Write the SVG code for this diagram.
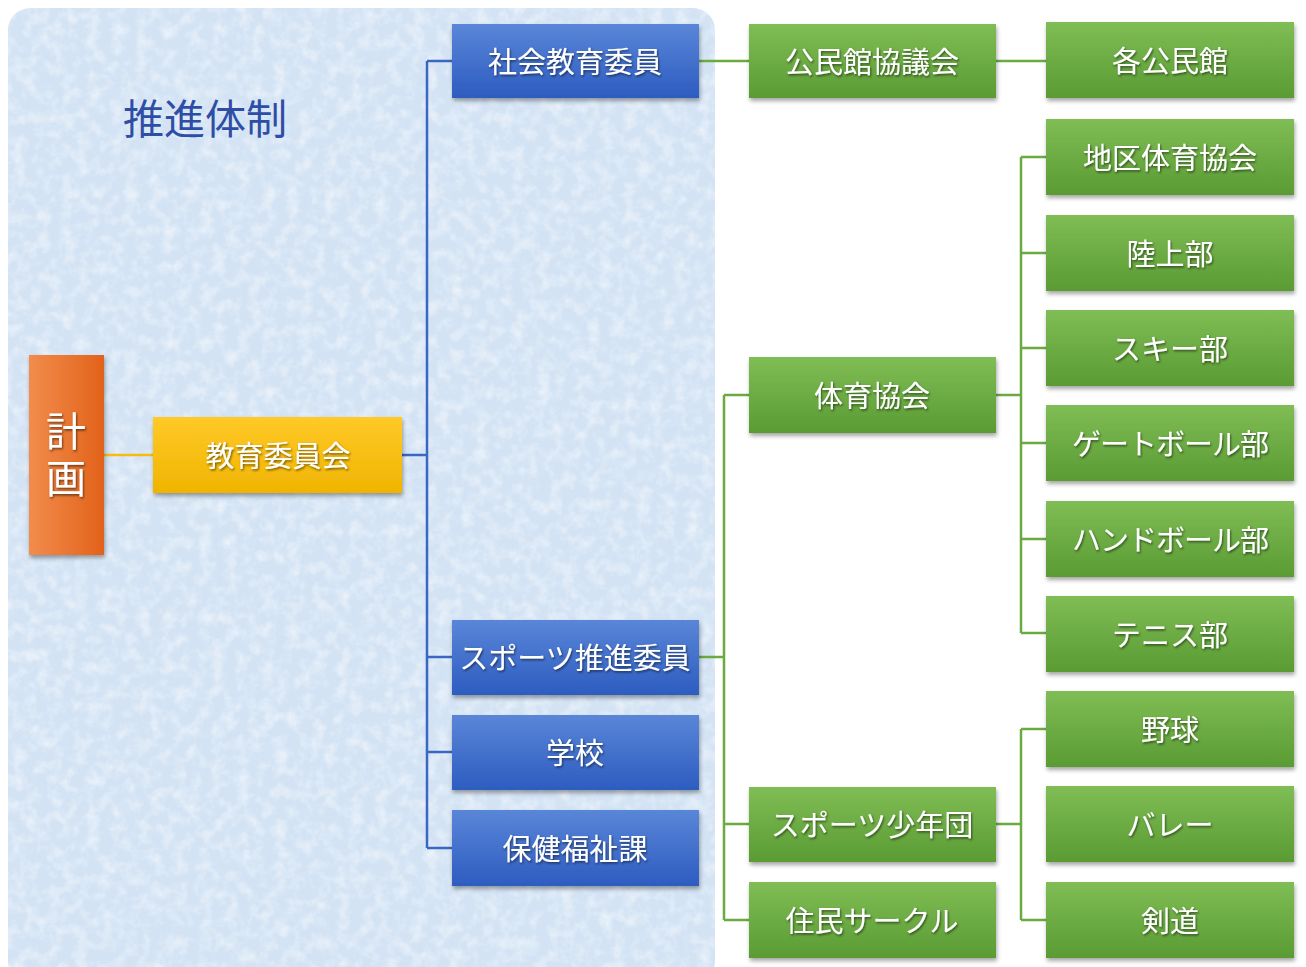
<svg xmlns="http://www.w3.org/2000/svg" width="1306" height="967" viewBox="0 0 1306 967">
<defs>
<linearGradient id="gBlue" x1="0" y1="0" x2="0" y2="1"><stop offset="0" stop-color="#5a86d8"/><stop offset="1" stop-color="#2d5cc0"/></linearGradient>
<linearGradient id="gGreen" x1="0" y1="0" x2="0" y2="1"><stop offset="0" stop-color="#80bd55"/><stop offset="1" stop-color="#5a9b33"/></linearGradient>
<linearGradient id="gYellow" x1="0" y1="0" x2="0" y2="1"><stop offset="0" stop-color="#ffc928"/><stop offset="1" stop-color="#f0b400"/></linearGradient>
<linearGradient id="gOrange" x1="0" y1="0" x2="1" y2="0"><stop offset="0" stop-color="#f28c4c"/><stop offset="1" stop-color="#e2621a"/></linearGradient>
<filter id="shadow" x="-10%" y="-10%" width="120%" height="130%"><feDropShadow dx="1" dy="3" stdDeviation="2" flood-color="#000" flood-opacity="0.35"/></filter>
<filter id="tshadow" x="-10%" y="-20%" width="120%" height="150%"><feDropShadow dx="1" dy="1.5" stdDeviation="0.8" flood-color="#000" flood-opacity="0.55"/></filter>
<filter id="tex" x="0" y="0" width="100%" height="100%">
<feTurbulence type="fractalNoise" baseFrequency="0.08" numOctaves="4" seed="4" result="n"/>
<feColorMatrix in="n" type="matrix" values="0 0 0 0 0.97  0 0 0 0 0.98  0 0 0 0 1  0 0 0 1.1 -0.45" result="c"/>
<feComposite in="c" in2="SourceGraphic" operator="in" result="cc"/>
<feMerge><feMergeNode in="SourceGraphic"/><feMergeNode in="cc"/></feMerge>
</filter>
<style>
.box{filter:url(#shadow)}
.b{fill:url(#gBlue)}
.g{fill:url(#gGreen)}
.lbl{font-family:"Noto Sans CJK JP","Noto Sans CJK SC",sans-serif;font-size:29px;fill:#fff;text-anchor:middle;dominant-baseline:central;filter:url(#tshadow)}
.v{font-family:"Noto Sans CJK JP","Noto Sans CJK SC",sans-serif;font-size:40px;fill:#fff;text-anchor:middle;writing-mode:vertical-rl;letter-spacing:7px;filter:url(#tshadow)}
.cb{stroke:#3a66c4;stroke-width:2.5;fill:none}
.cg{stroke:#6aaa3f;stroke-width:2.5;fill:none}
.cy{stroke:#f5bc10;stroke-width:2.5;fill:none}
</style>
</defs>
<rect x="0" y="0" width="1306" height="967" fill="#fff"/>
<rect id="bg" x="8" y="8" width="707" height="975" rx="22" fill="#d3e3f4" filter="url(#tex)"/>
<text id="title" x="205" y="116" font-family="'Noto Sans CJK JP','Noto Sans CJK SC',sans-serif" font-size="41" fill="#2e4ea6" text-anchor="middle" dominant-baseline="central">推進体制</text>
<g id="connectors">
<path class="cy" d="M104 455H153"/>
<path class="cb" d="M402 455H427M427 61V848M427 61H452M427 657H452M427 752H452M427 848H452"/>
<path class="cg" d="M699 61H749M996 61H1046"/>
<path class="cg" d="M699 657H724M724 395V920M724 395H749M724 824H749M724 920H749"/>
<path class="cg" d="M996 395H1021M1021 157V633M1021 157H1046M1021 253H1046M1021 348H1046M1021 443H1046M1021 539H1046M1021 633H1046"/>
<path class="cg" d="M996 824H1021M1021 729V920M1021 729H1046M1021 920H1046"/>
</g>
<g id="n-keikaku"><rect class="box" x="29" y="355" width="75" height="200" fill="url(#gOrange)"/><text class="v" x="66" y="458">計画</text></g>
<g id="n-kyoiku"><rect class="box" x="153" y="417" width="249" height="76" fill="url(#gYellow)"/><text class="lbl" x="278" y="454">教育委員会</text></g>
<g id="n-shakai"><rect class="box b" x="452" y="24" width="247" height="74"/><text class="lbl" x="575" y="60">社会教育委員</text></g>
<g id="n-sports-suishin"><rect class="box b" x="452" y="620" width="247" height="75"/><text class="lbl" x="575" y="656">スポーツ推進委員</text></g>
<g id="n-gakko"><rect class="box b" x="452" y="715" width="247" height="75"/><text class="lbl" x="575" y="751">学校</text></g>
<g id="n-hoken"><rect class="box b" x="452" y="810" width="247" height="76"/><text class="lbl" x="575" y="847">保健福祉課</text></g>
<g id="n-kominkan-kyogikai"><rect class="box g" x="749" y="24" width="247" height="74"/><text class="lbl" x="872" y="60">公民館協議会</text></g>
<g id="n-taiiku"><rect class="box g" x="749" y="357" width="247" height="76"/><text class="lbl" x="872" y="394">体育協会</text></g>
<g id="n-shonendan"><rect class="box g" x="749" y="787" width="247" height="75"/><text class="lbl" x="872" y="823">スポーツ少年団</text></g>
<g id="n-circle"><rect class="box g" x="749" y="882" width="247" height="76"/><text class="lbl" x="872" y="919">住民サークル</text></g>
<g id="n-kakukominkan"><rect class="box g" x="1046" y="22" width="248" height="76"/><text class="lbl" x="1170" y="59">各公民館</text></g>
<g id="n-chiku"><rect class="box g" x="1046" y="119" width="248" height="76"/><text class="lbl" x="1170" y="156">地区体育協会</text></g>
<g id="n-rikujo"><rect class="box g" x="1046" y="215" width="248" height="76"/><text class="lbl" x="1170" y="252">陸上部</text></g>
<g id="n-ski"><rect class="box g" x="1046" y="310" width="248" height="76"/><text class="lbl" x="1170" y="347">スキー部</text></g>
<g id="n-gateball"><rect class="box g" x="1046" y="405" width="248" height="76"/><text class="lbl" x="1170" y="442" letter-spacing="-1">ゲートボール部</text></g>
<g id="n-handball"><rect class="box g" x="1046" y="501" width="248" height="76"/><text class="lbl" x="1170" y="538" letter-spacing="-1">ハンドボール部</text></g>
<g id="n-tennis"><rect class="box g" x="1046" y="596" width="248" height="76"/><text class="lbl" x="1170" y="633">テニス部</text></g>
<g id="n-yakyu"><rect class="box g" x="1046" y="691" width="248" height="76"/><text class="lbl" x="1170" y="728">野球</text></g>
<g id="n-volley"><rect class="box g" x="1046" y="786" width="248" height="76"/><text class="lbl" x="1170" y="823">バレー</text></g>
<g id="n-kendo"><rect class="box g" x="1046" y="882" width="248" height="76"/><text class="lbl" x="1170" y="919">剣道</text></g>
</svg>
